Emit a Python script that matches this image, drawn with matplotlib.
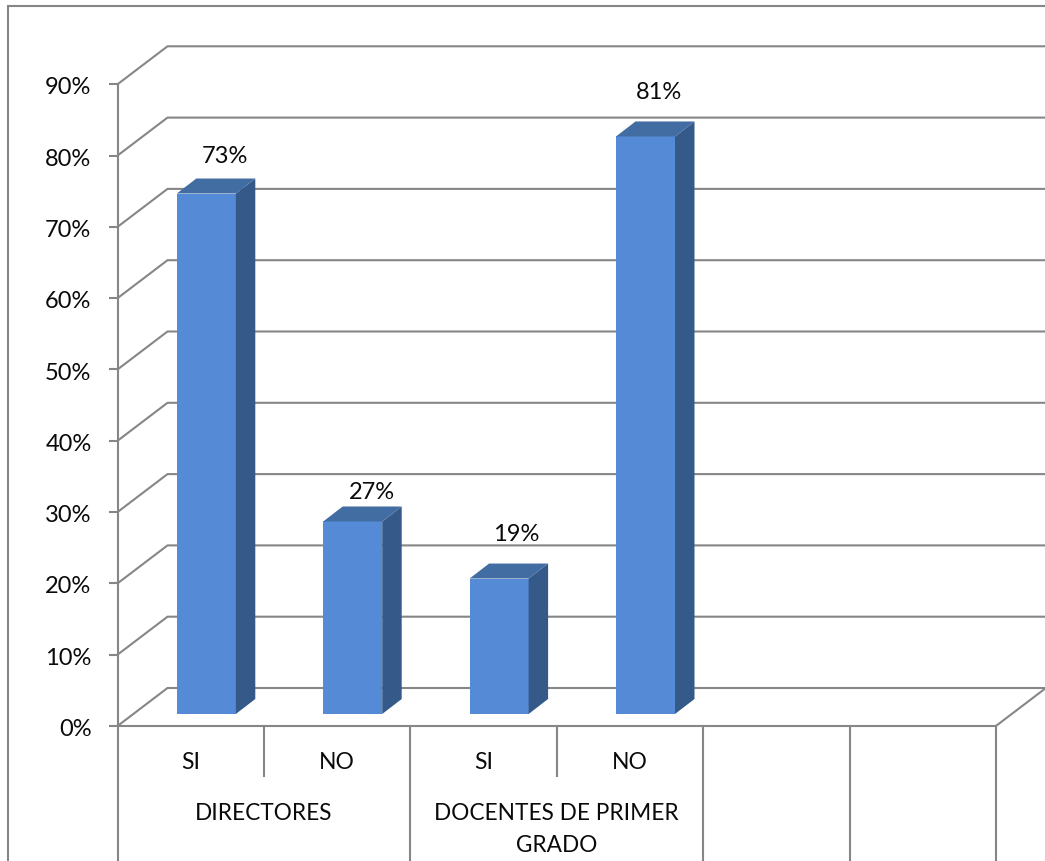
import matplotlib.pyplot as plt
from matplotlib.patches import Polygon, Rectangle

plt.rcParams['font.family'] = ['Lato', 'DejaVu Sans']

groups = ['DIRECTORES', 'DOCENTES DE PRIMER\nGRADO']
answers = ['SI', 'NO', 'SI', 'NO']
percent = [73, 27, 19, 81]
y_ticks = [0, 10, 20, 30, 40, 50, 60, 70, 80, 90]
n_slots = 6

W, H = 1045, 861
X0, Y0 = 117.5, 726      # pixel position of the chart origin
SLOT_PX = 146.4
PCT_PX = 7.13

GRID = '#868686'
FRONT = '#558BD6'
SIDE = '#355A8A'
TOP = '#426DA3'
TEXT = '#0A0A0A'

x_px = 1 / SLOT_PX
y_px = 1 / PCT_PX

# 3D look: depth of the back wall and of the bars, in data units
WALL_DX = 50 * x_px
WALL_DY = 38 * y_px
BAR_DX = 19.5 * x_px
BAR_DY = 15 * y_px
BAR_LEFT = 59.3 * x_px
BAR_BASE = 12 * y_px
BAR_W = 59 * x_px

# hand-placed data label offsets from the bar's top centre
label_dx = [19 * x_px, 19 * x_px, 17 * x_px, 13 * x_px]
label_dy = [37.5 * y_px, 29 * y_px, 44 * y_px, 43.5 * y_px]

fig = plt.figure(figsize=(W / 100, H / 100), dpi=100)
ax = fig.add_axes([0, 0, 1, 1])
ax.set_xlim(-X0 * x_px, (W - X0) * x_px)
ax.set_ylim((Y0 - H) * y_px, Y0 * y_px)
ax.axis('off')

y_bottom = ax.get_ylim()[0]
x_right = ax.get_xlim()[1]
line = dict(color=GRID, lw=1.5, solid_capstyle='butt', zorder=1)
label = dict(ha='center', va='center', color=TEXT)

# outer chart border, open past the right and bottom edges
ax.add_patch(Rectangle((-(X0 - 8) * x_px, y_bottom - 5), (W - 8 + 20) * x_px,
                       (H - 6) * y_px + 5, fill=False, ec=GRID, lw=1.5, zorder=1))

# gridlines running over the side wall and along the back wall
for t in y_ticks:
    ax.plot([0, WALL_DX, x_right], [t, t + WALL_DY, t + WALL_DY], **line)
    ax.plot([-8.5 * x_px, 0], [t, t], **line)

# floor edges and axes
ax.plot([0, 0], [y_bottom, y_ticks[-1]], **line)
ax.plot([0, n_slots], [0, 0], **line)
ax.plot([n_slots, n_slots + WALL_DX], [0, WALL_DY], **line)

# multi-level category separators
for i in range(1, n_slots + 1):
    short = i in (1, 3)
    ax.plot([i, i], [-51 * y_px if short else y_bottom, 0], **line)

# bars
for i, v in enumerate(percent):
    left = i + BAR_LEFT
    right = left + BAR_W
    top = BAR_BASE + v
    ax.add_patch(Polygon([(left, BAR_BASE), (right, BAR_BASE), (right, top), (left, top)],
                         fc=FRONT, ec='none', zorder=3))
    ax.add_patch(Polygon([(right, BAR_BASE), (right + BAR_DX, BAR_BASE + BAR_DY),
                          (right + BAR_DX, top + BAR_DY), (right, top)],
                         fc=SIDE, ec='none', zorder=3))
    ax.add_patch(Polygon([(left, top), (right, top), (right + BAR_DX, top + BAR_DY),
                          (left + BAR_DX, top + BAR_DY)],
                         fc=TOP, ec='none', zorder=3))
    ax.text(left + BAR_W / 2 + label_dx[i], top + label_dy[i], f'{v}%',
            fontsize=17, zorder=4, **label)

# value axis labels
for t in y_ticks:
    ax.text(-26 * x_px, t - 3.5 * y_px, f'{t}%', ha='right', va='center',
            fontsize=17, color=TEXT)

# category labels
for i, name in enumerate(answers):
    ax.text(i + 0.5, -36.5 * y_px, name, fontsize=16.5, **label)
ax.text(1, -87 * y_px, groups[0], fontsize=16.3, **label)
first, second = groups[1].split('\n')
ax.text(3, -87 * y_px, first, fontsize=16.3, **label)
ax.text(3, -119 * y_px, second, fontsize=16.3, **label)

fig.savefig('out.png', dpi=100)
